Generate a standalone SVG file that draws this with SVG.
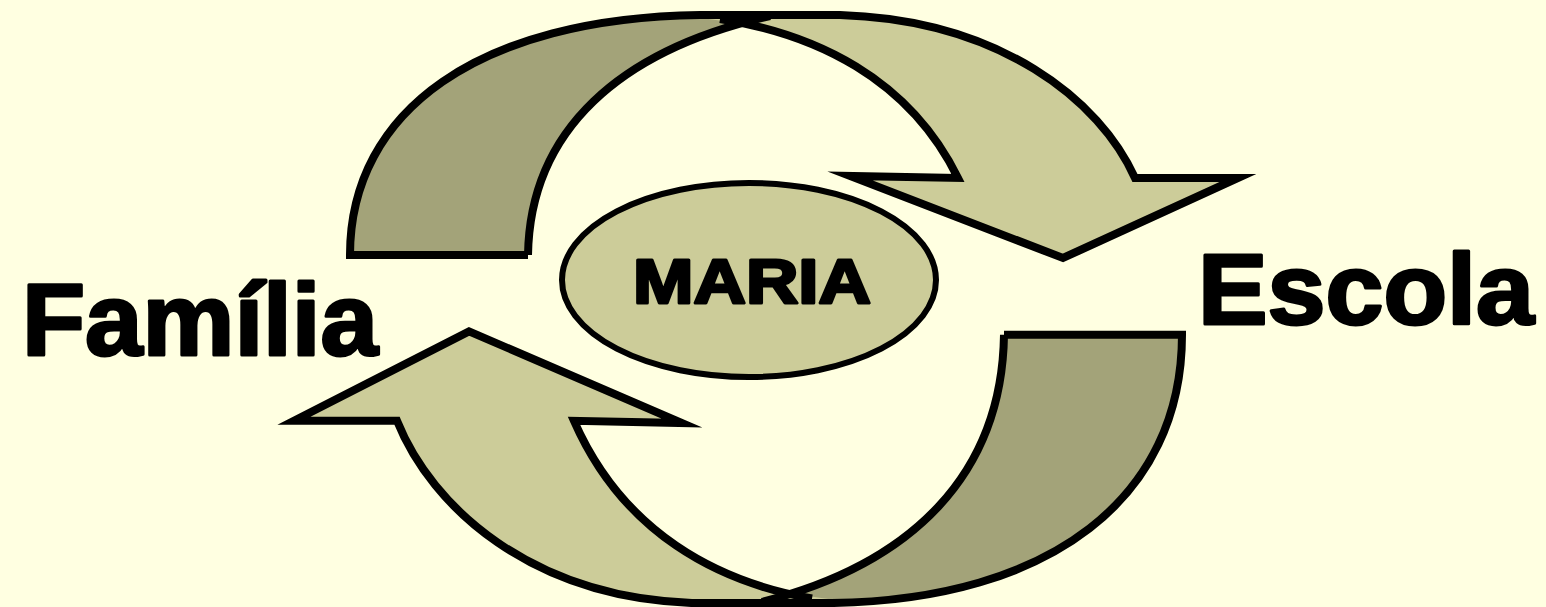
<svg xmlns="http://www.w3.org/2000/svg" width="1546" height="607" viewBox="0 0 1546 607">
<style>
.bg{fill:#FFFFE1}
.dark{fill:#A3A379;stroke:none}
.light{fill:#CCCC99;stroke:none}
.ol{fill:none;stroke:#000;stroke-width:8;stroke-linejoin:miter;stroke-miterlimit:10;vector-effect:non-scaling-stroke}
.ell{fill:#CCCC99;stroke:#000;stroke-width:6}
.lbl{font-family:"Liberation Sans",Arial,sans-serif;font-weight:bold;fill:#000;stroke:#000;stroke-width:3;stroke-linejoin:round;text-anchor:middle}
</style>
<defs>
<g id="curvedArrow">
<path class="dark" d="M350,255 C350,110 480,18 700,15 L770,16 C620,50 530,130 528,255 Z"/>
<path class="light" d="M660,15 L840,15 C1000,20 1100,100 1135,178 L1238,178 L1063,258 L850,176 L958,178 C900,60 780,20 660,15 Z"/>
<path class="ol" d="M528,255 L350,255 C350,110 480,18 700,15 L840,15 C1000,20 1100,100 1135,178 L1238,178 L1063,258 L850,176 L958,178 C908.7,77.7 814.5,33.7 720,19"/>
<path class="ol" d="M528,255 C530,130 620,50 770,16"/>
</g>
</defs>
<rect class="bg" x="0" y="0" width="1546" height="607"/>
<g id="connectors">
<g id="arrow-top"><use href="#curvedArrow"/></g>
<g id="arrow-bottom" transform="matrix(-1 0 0 -1.118 1532 619.8)"><use href="#curvedArrow"/></g>
</g>
<g id="node-maria">
<ellipse class="ell" cx="749" cy="280" rx="187" ry="97"/>
<text class="lbl" x="752" y="303" font-size="63" textLength="238" lengthAdjust="spacingAndGlyphs">MARIA</text>
</g>
<g id="node-familia">
<text class="lbl" x="200" y="355" font-size="102" textLength="356" lengthAdjust="spacingAndGlyphs">Família</text>
</g>
<g id="node-escola">
<text class="lbl" x="1366" y="324" font-size="100" textLength="336" lengthAdjust="spacingAndGlyphs">Escola</text>
</g>
</svg>
